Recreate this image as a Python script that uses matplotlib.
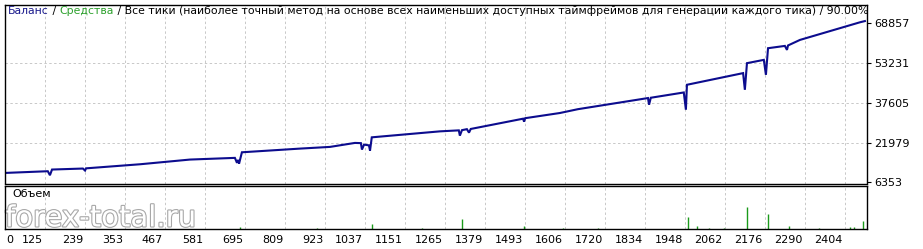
import matplotlib
matplotlib.use("Agg")
import matplotlib.pyplot as plt
from matplotlib import patheffects
from matplotlib.transforms import ScaledTranslation

# balance curve: trade number -> balance
TRADES = [11, 133, 139, 145, 233, 239, 242, 396, 538, 666, 672, 675, 678, 686,
          851, 937, 1008, 1025, 1028, 1034, 1048, 1051, 1056,
          1250, 1304, 1307, 1313, 1327, 1333, 1338, 1487, 1490, 1493,
          1592, 1643, 1843, 1846, 1851, 1945, 1951, 1954,
          2114, 2119, 2125, 2173, 2179, 2185, 2233, 2239, 2242, 2276, 2447, 2461]
BALANCE = [10100, 10770, 9200, 11430, 11820, 11040, 11900, 13500, 15340, 16000, 14050, 15200, 13780, 18190,
           19630, 20300, 21860, 21780, 19250, 21200, 20900, 18850, 24050,
           26390, 26780, 24710, 26860, 27250, 25890, 27330, 31350, 30180, 31550,
           33580, 35070, 39440, 36820, 39560, 41630, 34870, 44640,
           49210, 42680, 53110, 54400, 48540, 58970, 59870, 58310, 60050, 62220, 69130, 69600]

# volume spikes
VOL_TRADES = [680, 900, 1057, 1200, 1313, 1490, 1600, 1700, 1957, 1983, 2017, 2060,
              2125, 2185, 2245, 2330, 2418, 2430, 2455]
VOL_VALUES = [2, 1, 5, 1, 10, 3, 1, 1, 12, 3, 1, 1, 22, 15, 3, 1, 2, 2, 8]

Y_TICKS = [6353, 21979, 37605, 53231, 68857]
Y_GRID = [21979, 37605, 53231]
X_TICKS = [11, 125, 239, 353, 467, 581, 695, 809, 923, 1037, 1151, 1265, 1379,
           1493, 1606, 1720, 1834, 1948, 2062, 2176, 2290, 2404]
X_LABELS = ["0"] + [str(v) for v in X_TICKS[1:]]

TITLE_PARTS = [("Баланс", "#1a1a8c"), (" / ", "black"), ("Средства", "#2ca02c"),
               (" / Все тики (наиболее точный метод на основе всех наименьших доступных "
                "таймфреймов для генерации каждого тика) / 90.00%", "black")]

W, H = 923, 249
fig = plt.figure(figsize=(W / 100, H / 100), dpi=100)
plt.rcParams["font.family"] = "DejaVu Sans"


def frac(l, t, r, b):
    return [l / W, 1 - b / H, (r - l) / W, (b - t) / H]


ax = fig.add_axes(frac(5, 5, 867, 183.5))
axv = fig.add_axes(frac(5, 186, 867, 229))
grid_kw = dict(color="#c8c8c8", linestyle=(0, (2.5, 2.5)), linewidth=0.7)

ax.plot(TRADES, BALANCE, color="#0c0c8e", lw=1.5, solid_joinstyle="miter")
ax.set_xlim(11, 2467)
ax.set_ylim(5960, 75900)
ax.set_xticks(X_TICKS)
ax.set_xticklabels([])
ax.tick_params(axis="x", length=0)
ax.set_yticks(Y_TICKS)
ax.yaxis.tick_right()
ax.tick_params(axis="y", length=3, width=0.8, pad=2, labelsize=8)
ax.grid(True, axis="x", **grid_kw)
for yv in Y_GRID:
    ax.axhline(yv, zorder=0.5, **grid_kw)

axv.vlines(VOL_TRADES, 0, VOL_VALUES, color="#1a9a1a", lw=1.0)
axv.set_xlim(11, 2467)
axv.set_ylim(0, 43)
axv.set_yticks([])
axv.set_xticks(X_TICKS)
axv.set_xticklabels(X_LABELS)
axv.tick_params(axis="x", length=0, pad=4, labelsize=8)
axv.grid(True, axis="x", **grid_kw)
for i, lab in enumerate(axv.get_xticklabels()):
    if i == 0:
        lab.set_ha("left")
        lab.set_transform(lab.get_transform() + ScaledTranslation(1 / 100, 0, fig.dpi_scale_trans))
    else:
        lab.set_ha("right")
        lab.set_transform(lab.get_transform() + ScaledTranslation(-2 / 100, 0, fig.dpi_scale_trans))

for a in (ax, axv):
    for s in a.spines.values():
        s.set_linewidth(1.0)
        s.set_color("black")

axv.text(0.008, 0.93, "Объем", transform=axv.transAxes, fontsize=8, va="top", ha="left")
axv.text(0.0, -0.08, "forex-total.ru", transform=axv.transAxes, fontsize=21, va="bottom", ha="left",
         color="white", path_effects=[patheffects.withStroke(linewidth=1.6, foreground="#a8a8a8")],
         clip_on=False, zorder=0.3)

# multi-colour title, placed piece by piece
fig.canvas.draw()
renderer = fig.canvas.get_renderer()
x = 8
for txt, col in TITLE_PARTS:
    t = fig.text(x / W, 1 - 11 / H, txt, color=col, fontsize=7.8, va="center", ha="left")
    bb = t.get_window_extent(renderer)
    x += bb.width

fig.savefig("out.png", dpi=100)
